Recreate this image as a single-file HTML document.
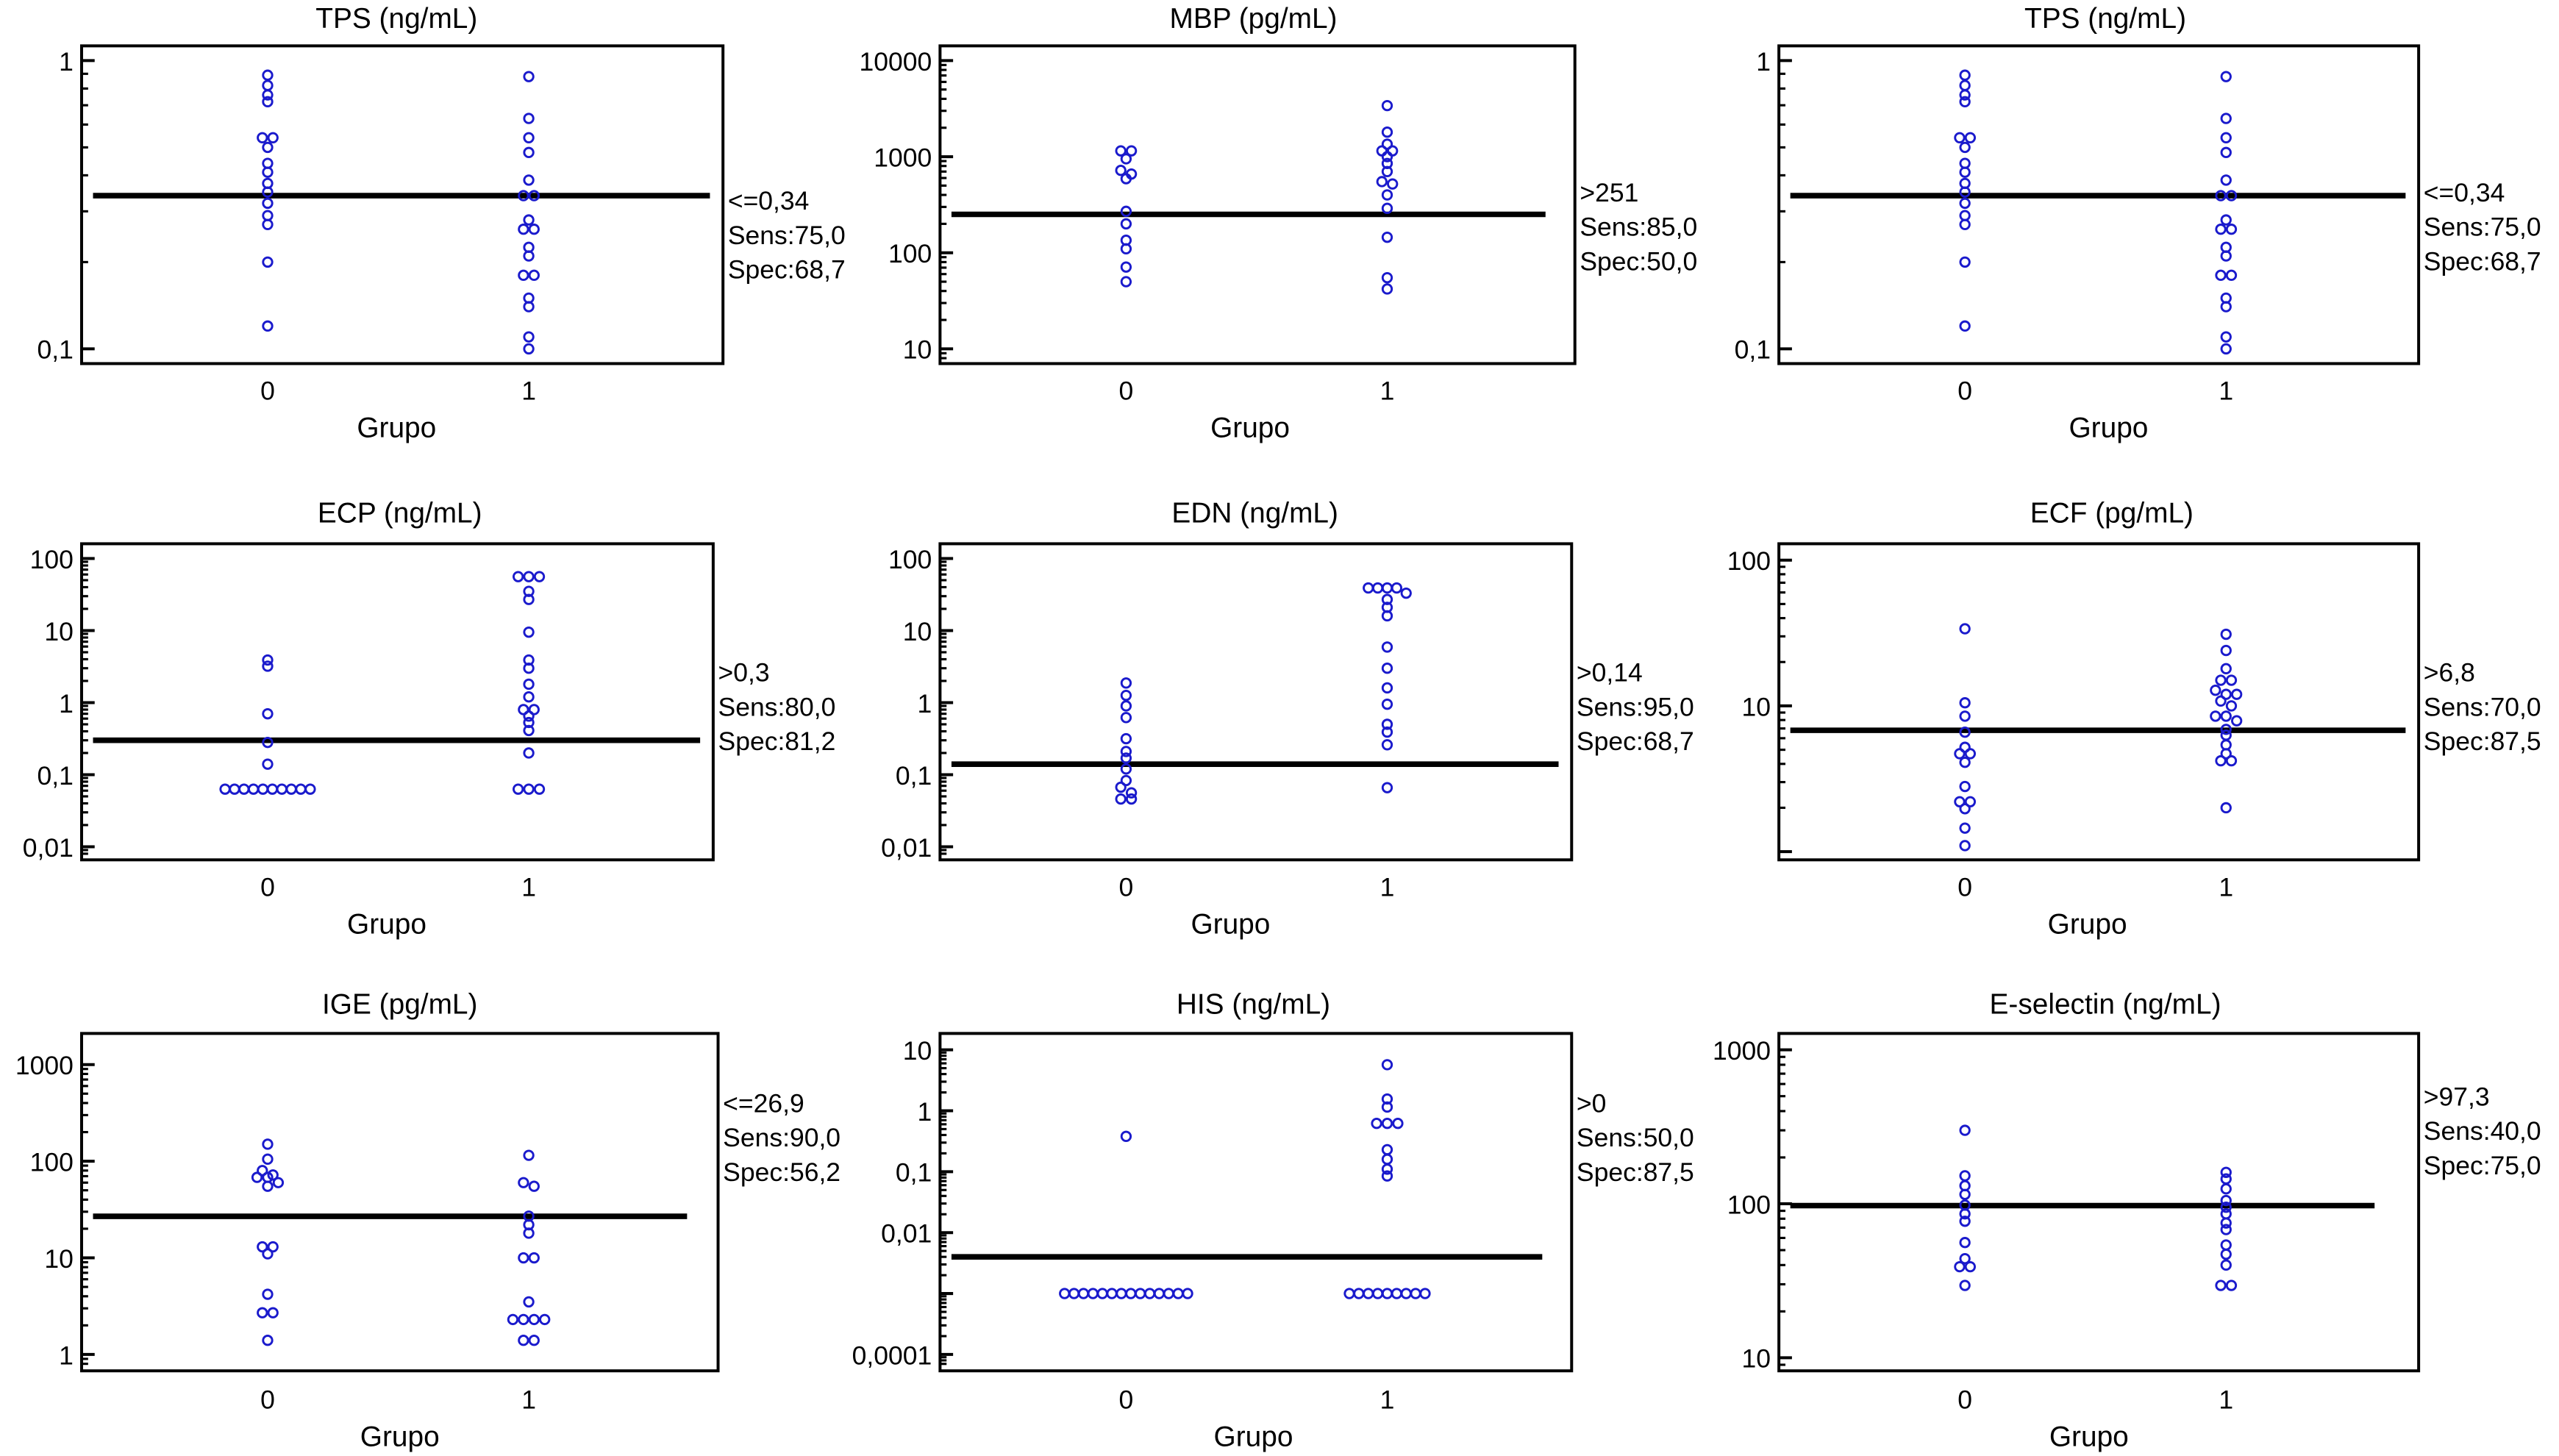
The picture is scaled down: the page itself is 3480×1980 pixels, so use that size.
<!DOCTYPE html>
<html><head><meta charset="utf-8"><style>
html,body{margin:0;padding:0;background:#fff;}
svg{display:block;}
text{font-family:"Liberation Sans",sans-serif;fill:#000;}
</style></head><body>
<svg id="fig" width="3480" height="1980" viewBox="0 0 1568 889" preserveAspectRatio="none" xmlns="http://www.w3.org/2000/svg"></svg>
<script>
// ---- data ----
const titles = ["TPS (ng/mL)","MBP (pg/mL)","TPS (ng/mL)","ECP (ng/mL)","EDN (ng/mL)","ECF (pg/mL)","IGE (pg/mL)","HIS (ng/mL)","E-selectin (ng/mL)"];
const thresholds = [0.34,251,0.34,0.3,0.14,6.8,26.9,0.004,97.3];
const cutLabels = ["<=0,34",">251","<=0,34",">0,3",">0,14",">6,8","<=26,9",">0",">97,3"];
const sensLabels = ["Sens:75,0","Sens:85,0","Sens:75,0","Sens:80,0","Sens:95,0","Sens:70,0","Sens:90,0","Sens:50,0","Sens:40,0"];
const specLabels = ["Spec:68,7","Spec:50,0","Spec:68,7","Spec:81,2","Spec:68,7","Spec:87,5","Spec:56,2","Spec:87,5","Spec:75,0"];
const tickValues = [[1,0.1],[10000,1000,100,10],[1,0.1],[100,10,1,0.1,0.01],[100,10,1,0.1,0.01],[100,10],[1000,100,10,1],[10,1,0.1,0.01,0.0001],[1000,100,10]];
const tickLabels = [["1","0,1"],["10000","1000","100","10"],["1","0,1"],["100","10","1","0,1","0,01"],["100","10","1","0,1","0,01"],["100","10"],["1000","100","10","1"],["10","1","0,1","0,01","0,0001"],["1000","100","10"]];
const group0 = [
 [0.89,0.82,0.76,0.72,0.54,0.54,0.50,0.44,0.41,0.375,0.35,0.32,0.29,0.27,0.20,0.12],
 [1150,1150,950,720,660,590,270,200,135,110,71,50],
 [0.89,0.82,0.76,0.72,0.54,0.54,0.50,0.44,0.41,0.375,0.35,0.32,0.29,0.27,0.20,0.12],
 [3.9,3.2,0.7,0.28,0.14,0.063,0.063,0.063,0.063,0.063,0.063,0.063,0.063,0.063,0.063],
 [1.87,1.26,0.9,0.62,0.316,0.21,0.17,0.12,0.083,0.067,0.056,0.046,0.046],
 [33.8,10.5,8.5,6.6,5.2,4.7,4.7,4.1,2.8,2.2,2.2,1.97,1.45,1.1],
 [150,105,80,72,68,68,60,55,13,13,11,4.2,2.7,2.7,1.4],
 [0.38,0.001,0.001,0.001,0.001,0.001,0.001,0.001,0.001,0.001,0.001,0.001,0.001,0.001,0.001],
 [300,152,131,115,98,86,77,56,44,39,39,29.5]
];
const group1 = [
 [0.88,0.63,0.54,0.48,0.385,0.34,0.34,0.28,0.26,0.26,0.225,0.21,0.18,0.18,0.15,0.14,0.11,0.10],
 [3400,1800,1350,1150,1150,1000,850,700,550,520,400,290,145,55,42],
 [0.88,0.63,0.54,0.48,0.385,0.34,0.34,0.28,0.26,0.26,0.225,0.21,0.18,0.18,0.15,0.14,0.11,0.10],
 [56,56,56,35,27,9.5,3.9,3.0,1.8,1.2,0.8,0.8,0.65,0.53,0.41,0.2,0.063,0.063,0.063],
 [39,39,39,39,33,27,21,16,5.9,3.0,1.6,0.95,0.5,0.39,0.26,0.066],
 [31,24,18,15,15,12.8,12,12,10.8,10,8.5,8.5,7.9,6.9,6.3,5.4,4.7,4.2,4.2,2.0],
 [115,60,55,27,22,18,10,10,3.5,2.3,2.3,2.3,2.3,1.4,1.4],
 [5.7,1.56,1.15,0.62,0.62,0.62,0.23,0.16,0.11,0.085,0.001,0.001,0.001,0.001,0.001,0.001,0.001,0.001,0.001],
 [160,145,125,105,95,86,75,68,54,47,40,29.5,29.5]
];
// ---- layout ----
const boxL=[50,576,1090,50,576,1090,50,576,1090];
const boxR=[443,965,1482,437,963,1482,440,963,1482];
const boxT=[28,28,28,332,332,332,631,631,631];
const boxB=[222,222,222,525,525,525,837,837,837];
const axRef=[[0,37,-1,213],[4,37,1,213],[0,37,-1,213],[2,341,-2,517],[2,341,-2,517],[2,342,1,431],[3,650,0,827],[1,641,-4,827],[3,641,1,829]];
const lineEndInset=[8,18,8,8,8,8,19,18,27];
const annY=[128,123,123,416,416,416,679,679,675];
const titleY=[17,17,17,319,319,319,619,619,619];
const titleX=[243,768,1290,245,769,1294,245,768,1290];
const grupoX=[243,766,1292,237,754,1279,245,768,1280];
const xTickY=[244,244,244,547,547,547,860,860,860];

const NS="http://www.w3.org/2000/svg";
const svg=document.getElementById('fig');
function mk(tag,attrs,parent){const e=document.createElementNS(NS,tag);for(const k in attrs)e.setAttribute(k,attrs[k]);(parent||svg).appendChild(e);return e;}

for(let p=0;p<9;p++){
  const g=mk('g',{});
  
  
  const [lt,yt,lb,yb]=axRef[p];
  const yScale=v=>yt+(lt-Math.log10(v))*(yb-yt)/(lt-lb);
  const x0=boxL[p]+114, x1=boxL[p]+274;
  const xScale=gi=>gi===0?x0:x1;
  const t=mk('text',{x:titleX[p],y:titleY[p],'font-size':17.5,'text-anchor':'middle'},g);
  t.textContent=titles[p];
  
  
  const b=mk('rect',{x:boxL[p],y:boxT[p],width:boxR[p]-boxL[p],height:boxB[p]-boxT[p],fill:'none',stroke:'#000','stroke-width':1.8},g);
  
  
  const yax=mk('g',{},g);
  
  
  for(let d=Math.floor(Math.min(lt,lb))-1;d<=Math.max(lt,lb)+1;d++){
    for(let k=1;k<=9;k++){
      const v=k*Math.pow(10,d); const y=yScale(v);
      if(y<boxT[p]+3||y>boxB[p]-3) continue;
      mk('line',{x1:boxL[p],x2:boxL[p]+(k===1?8:4),y1:y,y2:y,stroke:'#000','stroke-width':k===1?1.8:1.4},yax);
    }
  }
  tickValues[p].forEach((v,i)=>{
    const tl=mk('text',{x:boxL[p]-5,y:yScale(v)+6,'font-size':16,'text-anchor':'end'},yax);
    tl.textContent=tickLabels[p][i];
    
    
  });
  ["0","1"].forEach((s,i)=>{
    const xt=mk('text',{x:xScale(i),y:xTickY[p],'font-size':16,'text-anchor':'middle'},g);
    xt.textContent=s;
    
    
  });
  const xl=mk('text',{x:grupoX[p],y:xTickY[p]+23,'font-size':17.5,'text-anchor':'middle'},g);
  xl.textContent="Grupo";
  
  
  const ty=yScale(thresholds[p]);
  const tline=mk('line',{x1:boxL[p]+7,x2:boxR[p]-lineEndInset[p],y1:ty,y2:ty,stroke:'#000','stroke-width':3.4},g);
  
  
  [cutLabels[p],sensLabels[p],specLabels[p]].forEach((s,i)=>{
    const a=mk('text',{x:boxR[p]+3,y:annY[p]+i*21,'font-size':16},g);
    a.textContent=s;
    
    
  });
  [group0[p],group1[p]].forEach((vals,gi)=>{
    const ys=vals.map(yScale);
    const clusters=[];
    ys.forEach((y,i)=>{
      const c=clusters.find(c=>Math.abs(c.y-y)<3.5);
      if(c)c.idx.push(i);else clusters.push({y:y,idx:[i]});
    });
    clusters.forEach(c=>{
      const n=c.idx.length;
      c.idx.forEach((i,j)=>{
        const off=(j-(n-1)/2)*(n>4?5.8:6.5);
        const pt=mk('circle',{cx:xScale(gi)+off,cy:ys[i],r:2.8,fill:'none',stroke:'#1a1acc','stroke-width':1.3},g);
        
        
      });
    });
  });
}
</script>
</body></html>
